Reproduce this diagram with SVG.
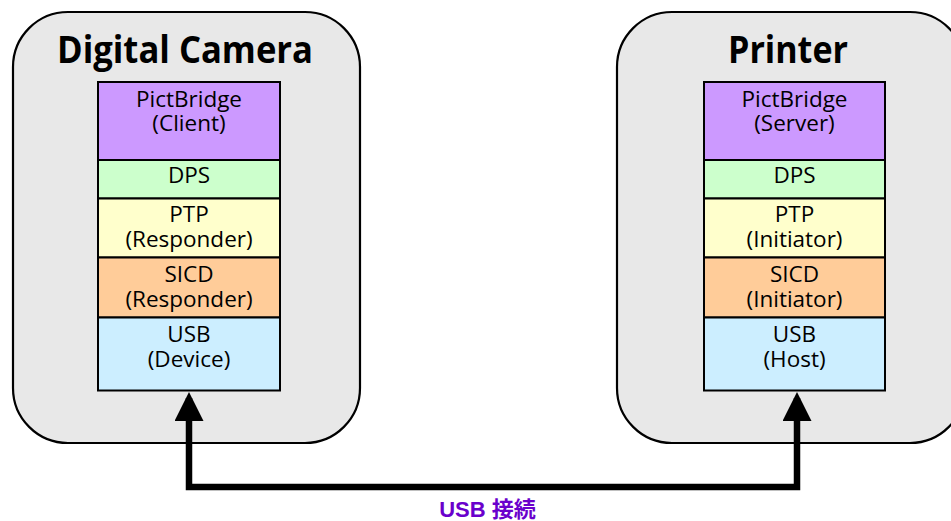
<svg xmlns="http://www.w3.org/2000/svg" width="951" height="521" viewBox="0 0 951 521">
<defs>
<style>
.dev{fill:#e8e8e8;stroke:#000;stroke-width:2.2}
.title{font-family:"Open Sans","Noto Sans",sans-serif;font-weight:bold;font-size:37px;text-anchor:middle;fill:#000}
.layer{stroke:#000;stroke-width:2}
.lbl{font-family:"Open Sans","Noto Sans",sans-serif;font-size:22.5px;text-anchor:middle;fill:#000}
.pb{fill:#cc99ff}.dps{fill:#ccffcc}.ptp{fill:#ffffcc}.sicd{fill:#ffcc99}.usb{fill:#cceeff}
.wire{fill:none;stroke:#000;stroke-width:6.5;stroke-linejoin:miter}
.cap{font-family:"Liberation Sans","Noto Sans CJK JP",sans-serif;font-weight:bold;font-size:22px;fill:#6a00cc;text-anchor:middle}
</style>
<marker id="ah" markerUnits="userSpaceOnUse" viewBox="0 0 29 29" markerWidth="29" markerHeight="29" refX="23" refY="14.5" orient="auto-start-reverse">
<path d="M0,0 L29,14.5 L0,29 Z" fill="#000"/>
</marker>
</defs>
<rect width="951" height="521" fill="#fff"/>

<g id="camera">
<rect class="dev" x="13" y="12" width="347" height="431" rx="55" ry="55"/>
<text class="title" x="185" y="63" textLength="256" lengthAdjust="spacingAndGlyphs">Digital Camera</text>
<g id="cam-pictbridge"><rect class="layer pb" x="98" y="82" width="182" height="78"/><text class="lbl" x="189" y="107">PictBridge</text><text class="lbl" x="189" y="131">(Client)</text></g>
<g id="cam-dps"><rect class="layer dps" x="98" y="160" width="182" height="38.5"/><text class="lbl" x="189" y="183">DPS</text></g>
<g id="cam-ptp"><rect class="layer ptp" x="98" y="198.5" width="182" height="59"/><text class="lbl" x="189" y="221.5">PTP</text><text class="lbl" x="189" y="246.5">(Responder)</text></g>
<g id="cam-sicd"><rect class="layer sicd" x="98" y="257.5" width="182" height="60"/><text class="lbl" x="189" y="281.5">SICD</text><text class="lbl" x="189" y="306.5">(Responder)</text></g>
<g id="cam-usb"><rect class="layer usb" x="98" y="317.5" width="182" height="73"/><text class="lbl" x="189" y="341.5">USB</text><text class="lbl" x="189" y="366.5">(Device)</text></g>
</g>

<g id="printer">
<rect class="dev" x="617" y="12" width="348" height="431" rx="55" ry="55"/>
<text class="title" x="788" y="63" textLength="120" lengthAdjust="spacingAndGlyphs">Printer</text>
<g id="prn-pictbridge"><rect class="layer pb" x="704" y="82" width="181" height="78"/><text class="lbl" x="794.5" y="107">PictBridge</text><text class="lbl" x="794.5" y="131">(Server)</text></g>
<g id="prn-dps"><rect class="layer dps" x="704" y="160" width="181" height="38.5"/><text class="lbl" x="794.5" y="183">DPS</text></g>
<g id="prn-ptp"><rect class="layer ptp" x="704" y="198.5" width="181" height="59"/><text class="lbl" x="794.5" y="221.5">PTP</text><text class="lbl" x="794.5" y="246.5">(Initiator)</text></g>
<g id="prn-sicd"><rect class="layer sicd" x="704" y="257.5" width="181" height="60"/><text class="lbl" x="794.5" y="281.5">SICD</text><text class="lbl" x="794.5" y="306.5">(Initiator)</text></g>
<g id="prn-usb"><rect class="layer usb" x="704" y="317.5" width="181" height="73"/><text class="lbl" x="794.5" y="341.5">USB</text><text class="lbl" x="794.5" y="366.5">(Host)</text></g>
</g>

<g id="connectors">
<path class="wire" d="M189,398 V487 H797 V398" marker-start="url(#ah)" marker-end="url(#ah)"/>
<text class="cap" x="487.5" y="516.5">USB 接続</text>
</g>
</svg>
